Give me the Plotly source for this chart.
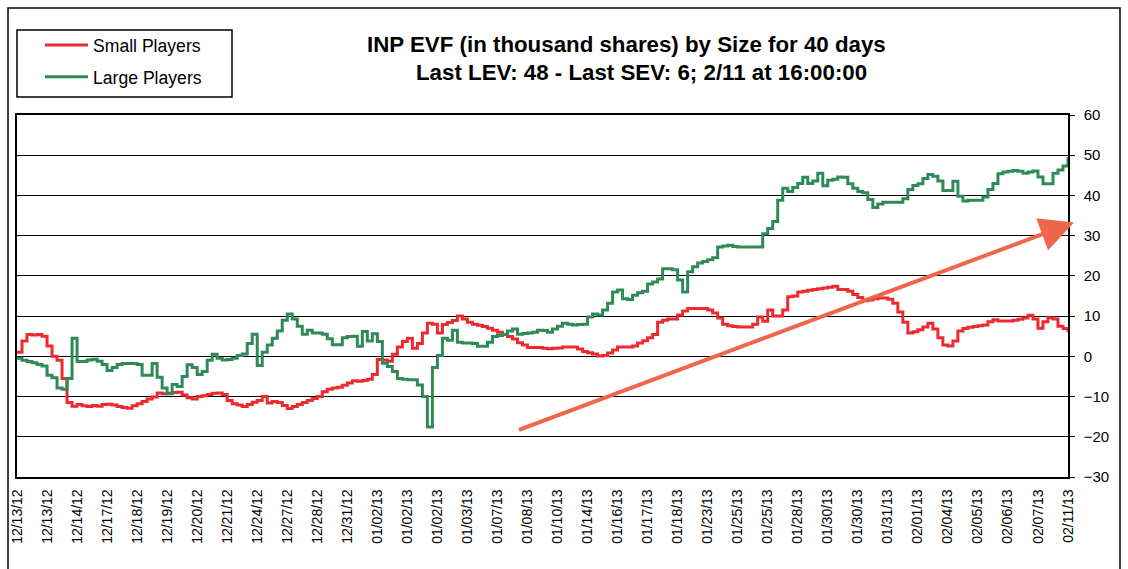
import plotly.graph_objects as go

# x labels (one per tick, evenly spaced along the intraday sample index)
tick_labels = ["12/13/12", "12/13/12", "12/14/12", "12/17/12", "12/18/12", "12/19/12",
               "12/20/12", "12/21/12", "12/24/12", "12/27/12", "12/28/12", "12/31/12",
               "01/02/13", "01/02/13", "01/02/13", "01/03/13", "01/07/13", "01/08/13",
               "01/10/13", "01/14/13", "01/16/13", "01/17/13", "01/18/13", "01/23/13",
               "01/25/13", "01/25/13", "01/28/13", "01/30/13", "01/30/13", "01/31/13",
               "02/01/13", "02/04/13", "02/05/13", "02/06/13", "02/07/13", "02/11/13"]

small_players = [
    1.0, 3.8, 5.4, 5.3, 5.4, 5.0, 2.6, 0.0, -1.0, -5.5,
    -11.5, -12.4, -12.0, -12.3, -12.5, -12.2, -12.4, -12.0, -11.9, -12.1,
    -12.5, -12.7, -12.9, -12.3, -11.8, -11.2, -10.6, -10.1, -9.1, -9.3,
    -9.2, -9.0, -8.9, -9.6, -10.3, -10.6, -10.0, -9.8, -9.5, -9.2,
    -9.1, -9.5, -11.0, -11.8, -12.1, -12.5, -12.0, -11.4, -11.0, -10.0,
    -11.6, -11.2, -11.5, -12.2, -13.0, -12.5, -12.0, -11.5, -11.0, -10.5,
    -10.0, -8.8, -8.2, -7.9, -7.7, -7.2, -6.6, -6.1, -6.2, -6.0,
    -5.7, -4.5, -0.8, -0.9, -1.2, 0.5, 2.3, 3.7, 4.5, 2.0,
    3.2, 5.8, 8.2, 8.0, 5.8, 7.9, 8.4, 8.9, 10.0, 9.3,
    8.5, 8.0, 7.7, 7.4, 7.0, 6.5, 6.0, 5.4, 4.9, 4.3,
    3.4, 2.8, 2.2, 2.2, 2.2, 2.0, 1.9, 2.0, 2.1, 2.3,
    2.3, 2.3, 1.8, 1.2, 0.9, 0.6, 0.1, 0.2, 0.8, 1.6,
    2.3, 2.3, 2.3, 2.6, 3.3, 3.9, 4.6, 5.4, 8.5, 9.0,
    9.3, 9.3, 10.3, 11.3, 11.9, 11.9, 11.9, 11.9, 11.5, 10.8,
    9.5, 8.0, 7.6, 7.4, 7.3, 7.3, 7.3, 8.0, 9.8, 8.7,
    11.5, 10.0, 10.0, 11.5, 14.8, 15.0, 16.0, 16.2, 16.4, 16.6,
    16.8, 17.0, 17.2, 17.4, 16.6, 16.6, 16.2, 15.4, 14.6, 13.8,
    14.0, 14.3, 14.5, 14.5, 14.2, 13.2, 11.0, 8.5, 5.8, 6.1,
    6.6, 7.3, 8.2, 6.8, 4.6, 2.8, 2.6, 3.8, 6.3, 6.9,
    7.2, 7.4, 7.6, 7.8, 8.6, 9.1, 8.8, 8.8, 8.8, 9.0,
    9.2, 9.5, 10.2, 9.3, 7.0, 8.6, 9.6, 9.3, 7.5, 6.9,
    6.0,
]

large_players = [
    -0.5, -1.0, -1.3, -1.6, -2.0, -2.4, -4.7, -5.3, -7.9, -8.2,
    -5.5, 4.5, -1.3, -1.3, -0.9, -0.7, -1.2, -2.0, -3.5, -2.8,
    -2.0, -1.8, -1.8, -1.8, -2.0, -4.7, -4.7, -1.8, -5.2, -7.9,
    -9.3, -7.0, -7.5, -5.0, -2.1, -2.8, -4.5, -3.8, -1.0, 0.5,
    -0.5, -0.9, -0.8, -0.5, 0.2, 0.6, 3.2, 5.5, -2.3, 1.0,
    2.8, 4.5, 6.3, 9.0, 10.5, 9.3, 7.5, 5.5, 6.5, 5.8,
    5.8, 5.5, 4.4, 2.9, 2.9, 4.6, 4.9, 5.0, 2.5, 6.2,
    3.8, 5.6, 3.7, -1.7, -2.5, -3.8, -5.5, -5.7, -5.8, -5.8,
    -7.1, -10.0, -17.6, -2.8, 0.2, 4.5, 4.0, 6.5, 3.5, 3.3,
    3.3, 3.2, 2.5, 2.5, 3.5, 4.9, 5.2, 5.4, 6.3, 6.8,
    5.5, 5.7, 5.8, 6.0, 6.5, 6.4, 6.0, 6.8, 7.5, 8.2,
    8.0, 7.8, 7.9, 8.0, 9.8, 10.5, 10.3, 11.5, 13.2, 16.0,
    16.5, 14.3, 14.1, 15.2, 15.8, 16.2, 18.0, 18.5, 19.2, 21.8,
    21.8, 21.5, 19.0, 16.0, 21.0, 22.3, 23.2, 23.6, 24.0, 24.5,
    27.2, 27.4, 27.6, 27.3, 27.2, 27.2, 27.2, 27.2, 27.2, 30.5,
    31.8, 33.5, 38.8, 41.8, 41.0, 42.0, 43.0, 44.5, 43.0, 43.6,
    45.5, 42.4, 43.8, 44.0, 44.6, 44.5, 42.9, 41.8, 41.0, 40.7,
    39.0, 37.0, 37.9, 38.3, 38.3, 38.3, 38.3, 39.2, 41.5, 42.5,
    42.9, 44.2, 45.2, 44.8, 43.6, 41.2, 41.2, 43.5, 39.8, 38.6,
    38.8, 38.8, 38.8, 39.6, 41.5, 43.0, 45.4, 45.8, 46.0, 46.2,
    46.0, 45.5, 45.8, 46.1, 44.6, 42.9, 42.9, 45.5, 46.3, 47.3,
    49.5,
]

y_ticks = [-30, -20, -10, 0, 10, 20, 30, 40, 50, 60]

n = len(small_players)
x_idx = list(range(n))
step = (n - 1) // (len(tick_labels) - 1)
tick_pos = [i * step for i in range(len(tick_labels))]

FONT = "Liberation Sans, Arial, sans-serif"

fig = go.Figure()
fig.add_trace(go.Scatter(x=x_idx, y=small_players, name="Small Players", mode="lines",
                         line=dict(color="#EE2A2E", width=3, shape="hv"),
                         legendgroup="s"))
fig.add_trace(go.Scatter(x=x_idx, y=large_players, name="Large Players", mode="lines",
                         line=dict(color="#2E8B57", width=3, shape="hv"),
                         legendgroup="l"))

W, H = 1128, 569
L, R, T, B = 17, 60, 115, 92
pw, ph = W - L - R, H - T - B


def px(xp):
    return (xp - L) / pw


def py(yp):
    return (H - B - yp) / ph


fig.update_layout(
    width=W, height=H, autosize=False,
    margin=dict(l=L, r=R, t=T, b=B, pad=0, autoexpand=False),
    paper_bgcolor="white", plot_bgcolor="white",
    font=dict(family=FONT, color="black"),
    showlegend=True,
    legend=dict(xref="container", yref="container", x=40 / W, y=1 - 27 / H,
                xanchor="left", yanchor="top",
                bgcolor="rgba(0,0,0,0)", borderwidth=0, tracegroupgap=6,
                itemwidth=43, font=dict(size=17.6, family=FONT, color="black")),
    xaxis=dict(range=[0, n - 1], tickmode="array", tickvals=tick_pos, ticktext=tick_labels,
               tickangle=-90, showgrid=False, zeroline=False, showline=True, mirror=True,
               linecolor="black", linewidth=1.5, ticks="", tickfont=dict(size=14),
               ticklabelstandoff=5, automargin=False),
    yaxis=dict(range=[-30, 60], side="right", tickmode="array", tickvals=y_ticks,
               showgrid=True, gridcolor="black", gridwidth=1.2, zeroline=False,
               showline=True, mirror=True, linecolor="black", linewidth=1.5,
               ticks="outside", ticklen=5, tickcolor="black", tickfont=dict(size=15),
               ticklabelstandoff=6, automargin=False),
    shapes=[
        dict(type="rect", xref="paper", yref="paper", x0=px(8), x1=px(1120),
             y0=py(600), y1=py(8), line=dict(color="black", width=1.5)),
        dict(type="rect", xref="paper", yref="paper", x0=px(17), x1=px(232),
             y0=py(97), y1=py(30), line=dict(color="black", width=1.5)),
    ],
    annotations=[
        dict(text="<b>INP EVF (in thousand shares) by Size for 40 days</b>",
             xref="paper", yref="paper", x=px(626), y=py(44), showarrow=False,
             xanchor="center", yanchor="middle", font=dict(size=22.3, family=FONT)),
        dict(text="<b>Last LEV: 48 - Last SEV: 6; 2/11 at 16:00:00</b>",
             xref="paper", yref="paper", x=px(641), y=py(73), showarrow=False,
             xanchor="center", yanchor="middle", font=dict(size=22.3, family=FONT)),
        dict(text="", x=211.2, y=33.3, xref="x", yref="y", ax=100, ay=-18.4,
             axref="x", ayref="y", showarrow=True, arrowhead=2, arrowsize=1.7,
             arrowwidth=4, arrowcolor="#F0664A", standoff=0),
    ],
)

fig.write_html("out.html", config={"displayModeBar": False},
               post_script="document.body.style.margin='0';")
